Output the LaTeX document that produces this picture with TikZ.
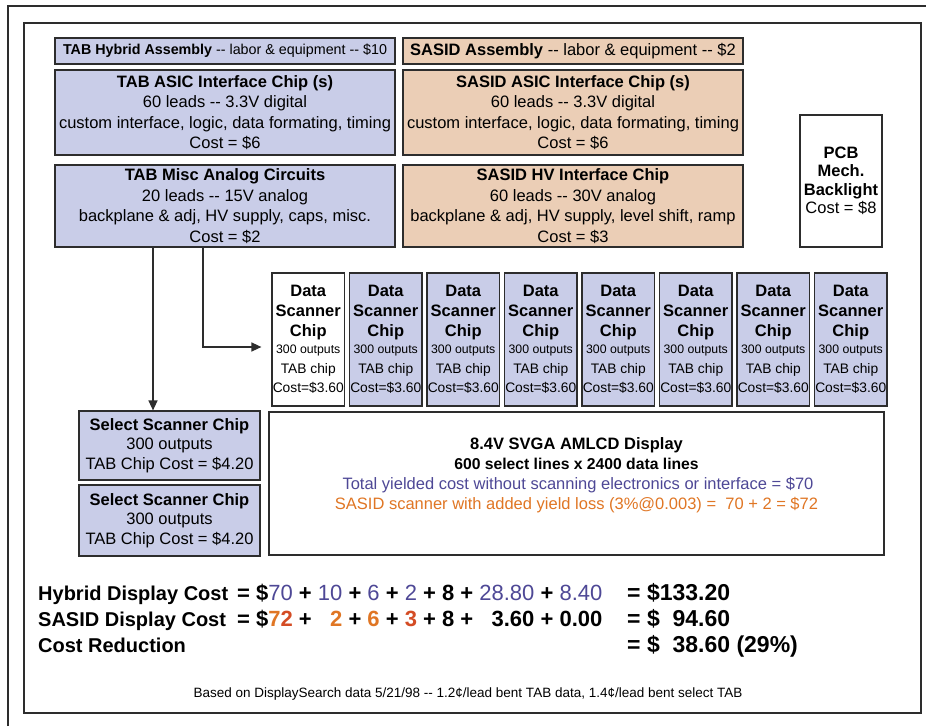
\documentclass[tikz,border=0pt]{standalone}
\usepackage{fontspec}
\setmainfont{Liberation Sans}
\usetikzlibrary{arrows.meta,calc}
\definecolor{boxblue}{RGB}{201,205,232}
\definecolor{boxpeach}{RGB}{235,206,182}
\definecolor{txtblue}{RGB}{78,72,150}
\definecolor{txtorange}{RGB}{224,118,36}
\definecolor{txtred}{RGB}{212,76,36}
\definecolor{edge}{RGB}{45,45,45}
\newcommand\fsz[2]{\fontsize{#1}{#2}\selectfont}
\newcommand\blu[1]{\textcolor{txtblue}{\mdseries #1}}
\newcommand\org[1]{\textcolor{txtorange}{#1}}
\begin{document}
\begin{tikzpicture}[x=1pt,y=-1pt,
  box/.style={draw=edge, line width=1.2pt, inner sep=0pt, align=center, text=black},
  bluebox/.style={box, fill=boxblue},
  peachbox/.style={box, fill=boxpeach},
  arr/.style={draw=edge, line width=1.4pt, -{Triangle[length=10pt,width=9pt]}},
  chipb/.style={anchor=base, inner sep=0pt, font=\fsz{16.5}{16.5}\bfseries},
  chipsm/.style={anchor=base, inner sep=0pt, font=\fsz{12.3}{12.3}},
  chipr/.style={anchor=base, inner sep=0pt, font=\fsz{13.8}{13.8}},
  disptxt/.style={anchor=base, inner sep=0pt, font=\fsz{16.5}{16.5}},
  eqlab/.style={anchor=base west, inner sep=0pt, font=\fsz{20}{20}\bfseries},
  eqline/.style={anchor=base west, inner sep=0pt, font=\fsz{22}{22}\bfseries},
  eqres/.style={anchor=base west, inner sep=0pt, font=\fsz{23}{23}\bfseries}
]
\useasboundingbox (0,0) rectangle (926,726);
\fill[white] (0,0) rectangle (926,726);
% frames
\draw[edge, line width=1.8pt] (8,726) -- (8,6) -- (926,6);
\draw[edge, line width=1.5pt] (24,23) rectangle (921,713);

% top boxes
\node[bluebox, minimum width=340, minimum height=26, font=\fsz{14.3}{17}] (asmT) at (225,51)
  {\textbf{TAB Hybrid Assembly} -{}- labor \& equipment -{}- \$10};
\node[peachbox, minimum width=340, minimum height=26, font=\fsz{16.5}{18}] (asmS) at (573,51)
  {\textbf{SASID Assembly} -{}- labor \& equipment -{}- \$2};
\node[bluebox, minimum width=340, minimum height=85, font=\fsz{16.5}{20.5}] (asicT) at (225,112.5)
  {\textbf{TAB ASIC Interface Chip (s)}\\60 leads -{}- 3.3V digital\\custom interface, logic, data formating, timing\\Cost = \$6};
\node[peachbox, minimum width=340, minimum height=85, font=\fsz{16.5}{20.5}] (asicS) at (573,112.5)
  {\textbf{SASID ASIC Interface Chip (s)}\\60 leads -{}- 3.3V digital\\custom interface, logic, data formating, timing\\Cost = \$6};
\node[bluebox, minimum width=340, minimum height=82, font=\fsz{16.5}{20.7}] (miscT) at (225,206)
  {\textbf{TAB Misc Analog Circuits}\\20 leads -{}- 15V analog\\backplane \& adj, HV supply, caps, misc.\\Cost = \$2};
\node[peachbox, minimum width=340, minimum height=82, font=\fsz{16.5}{20.7}] (hvS) at (573,206)
  {\textbf{SASID HV Interface Chip}\\60 leads -{}- 30V analog\\backplane \& adj, HV supply, level shift, ramp\\Cost = \$3};
\node[box, fill=white, minimum width=82, minimum height=132, font=\fsz{16.5}{18.5}] (pcb) at (841,181)
  {\textbf{PCB}\\\textbf{Mech.}\\\textbf{Backlight}\\Cost = \$8};

% data scanner chips
\foreach \i in {0,...,7}{
  \pgfmathsetmacro{\cx}{308.25+77.5*\i}
  \ifnum\i=0 \def\cf{white}\else\def\cf{boxblue}\fi
  \node[box, fill=\cf, minimum width=72.5, minimum height=133] (c\i) at (\cx,339.5) {};
  \node[chipb] (c\i-1) at (\cx,296) {Data};
  \node[chipb] (c\i-2) at (\cx,316) {Scanner};
  \node[chipb] (c\i-3) at (\cx,336) {Chip};
  \node[chipsm] (c\i-4) at (\cx,353.5) {300 outputs};
  \node[chipr] (c\i-5) at (\cx,373) {TAB chip};
  \node[chipr] (c\i-6) at (\cx,392) {Cost=\$3.60};
}

% display
\node[box, fill=white, minimum width=615, minimum height=143] (disp) at (576.5,483.5) {};
\node[disptxt, font=\fsz{16.5}{16.5}\bfseries] (d1) at (576.5,449) {8.4V SVGA AMLCD Display};
\node[disptxt, font=\fsz{15.7}{15.7}\bfseries] (d2) at (576.5,469) {600 select lines x 2400 data lines};
\node[disptxt, text=txtblue] (d3) at (578,489) {Total yielded cost without scanning electronics or interface = \$70};
\node[disptxt, text=txtorange] (d4) at (576.5,509) {SASID scanner with added yield loss (3\%@0.003) =\ \ 70 + 2 = \$72};

% select scanners
\node[bluebox, minimum width=181, minimum height=69, font=\fsz{16.5}{19.5}] (sel1) at (169.5,445.5)
  {\textbf{Select Scanner Chip}\\300 outputs\\TAB Chip Cost = \$4.20};
\node[bluebox, minimum width=181, minimum height=71, font=\fsz{16.5}{19.5}] (sel2) at (169.5,520.5)
  {\textbf{Select Scanner Chip}\\300 outputs\\TAB Chip Cost = \$4.20};

% connectors
\coordinate (t1) at (153,0);
\coordinate (t2) at (203,347);
\draw[arr] (miscT.south -| t1) -- (sel1.north -| t1);
\draw[arr] (miscT.south -| t2) |- ([xshift=-10pt]c0.west |- t2);

% equations
\node[eqlab] (l1) at (38,600) {Hybrid Display Cost};
\node[eqlab] (l2) at (38,626) {SASID Display Cost};
\node[eqlab] (l3) at (38,652) {Cost Reduction};
\node[eqline] (e1) at (237,600)
  {= \$\blu{70} + \blu{10} + \blu{6} + \blu{2} + 8 + \blu{28.80} + \blu{8.40}};
\node[eqline] (e2) at (237,626)
  {= \$\org{7}\textcolor{txtred}{2} + \phantom{1}\org{2} + \org{6} + \textcolor{txtred}{3} + 8 + \phantom{2}3.60 + 0.00};
\node[eqres] (r1) at (627,600) {= \$133.20};
\node[eqres] (r2) at (627,626) {= \$\phantom{1}94.60};
\node[eqres] (r3) at (627,652) {= \$\phantom{1}38.60 (29\%)};

% footnote
\node[anchor=base, inner sep=0pt, font=\fsz{13.5}{13.5}] (foot) at (468,697)
  {Based on DisplaySearch data 5/21/98 -{}- 1.2¢/lead bent TAB data, 1.4¢/lead bent select TAB};
\end{tikzpicture}
\end{document}
